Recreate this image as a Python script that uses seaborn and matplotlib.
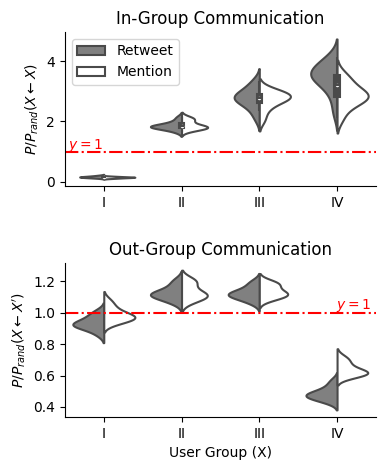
import pandas as pd
import matplotlib.pyplot as plt
import seaborn as sns

groups = ['I', 'II', 'III', 'IV']
kinds = ['Retweet', 'Mention']

# In-group ratios P/P_rand(X <- X)
in_retweet = {
    'I': [0.12, 0.13, 0.14, 0.15, 0.15, 0.16, 0.16, 0.17, 0.18, 0.19, 0.21],
    'II': [1.66, 1.74, 1.78, 1.80, 1.82, 1.83, 1.84, 1.86, 1.89, 1.94, 2.02, 2.14],
    'III': [2.10, 2.35, 2.52, 2.62, 2.70, 2.75, 2.79, 2.83, 2.88, 2.95, 3.05, 3.20, 3.35],
    'IV': [2.30, 2.80, 3.10, 3.28, 3.40, 3.47, 3.53, 3.59, 3.66, 3.74, 3.86, 4.00, 4.14],
}
in_mention = {
    'I': [0.11, 0.12, 0.13, 0.14, 0.14, 0.15, 0.15, 0.15, 0.16, 0.17, 0.18],
    'II': [1.70, 1.75, 1.78, 1.80, 1.81, 1.82, 1.84, 1.88, 1.98, 2.06, 2.10, 2.13],
    'III': [2.05, 2.35, 2.55, 2.66, 2.74, 2.79, 2.83, 2.87, 2.92, 2.98, 3.05],
    'IV': [2.10, 2.45, 2.62, 2.72, 2.78, 2.83, 2.88, 2.95, 3.05, 3.20, 3.40, 3.55],
}

# Out-group ratios P/P_rand(X <- X')
out_retweet = {
    'I': [0.86, 0.89, 0.905, 0.915, 0.92, 0.925, 0.93, 0.94, 0.955, 0.97, 0.99, 1.01],
    'II': [1.06, 1.08, 1.095, 1.105, 1.11, 1.115, 1.12, 1.13, 1.14, 1.16, 1.185, 1.21],
    'III': [1.06, 1.08, 1.095, 1.105, 1.11, 1.115, 1.12, 1.13, 1.14, 1.155, 1.18, 1.20],
    'IV': [0.43, 0.445, 0.455, 0.465, 0.47, 0.475, 0.48, 0.49, 0.50, 0.515, 0.54, 0.57],
}
out_mention = {
    'I': [0.93, 0.945, 0.955, 0.962, 0.968, 0.975, 0.98, 0.99, 1.005, 1.025, 1.05, 1.08],
    'II': [1.065, 1.085, 1.095, 1.105, 1.11, 1.115, 1.125, 1.14, 1.17, 1.195, 1.205, 1.21],
    'III': [1.08, 1.095, 1.105, 1.112, 1.118, 1.125, 1.135, 1.15, 1.17, 1.18, 1.19, 1.20],
    'IV': [0.59, 0.60, 0.607, 0.613, 0.618, 0.623, 0.628, 0.64, 0.66, 0.68, 0.70, 0.72],
}

EDGE = '#4a4a4a'


def to_long(retweet, mention):
    rows = []
    for g in groups:
        rows += [(g, 'Retweet', v) for v in retweet[g]]
        rows += [(g, 'Mention', v) for v in mention[g]]
    return pd.DataFrame(rows, columns=['group', 'kind', 'ratio'])


def draw(ax, df, box, legend):
    # one call per group so both halves share the group's density scale
    for i, g in enumerate(groups):
        sns.violinplot(data=df[df['group'] == g], x='group', y='ratio', hue='kind',
                       order=groups, hue_order=kinds, split=True, inner=None,
                       palette={'Retweet': 'gray', 'Mention': 'white'}, saturation=1,
                       linecolor=EDGE, linewidth=1.5, density_norm='area',
                       common_norm=True, legend=(legend and i == 0), ax=ax)
    if box:
        # single inner box per group, on the pooled data
        sns.boxplot(data=df, x='group', y='ratio', order=groups, width=0.07,
                    color=EDGE, linecolor=EDGE, saturation=1, showcaps=False,
                    showfliers=False, linewidth=1.5, ax=ax)
        sns.pointplot(data=df, x='group', y='ratio', order=groups, estimator='median',
                      errorbar=None, color='white', linestyle='none', marker='o',
                      markersize=2.5, markeredgewidth=0, ax=ax)


plt.rcParams['font.family'] = ['DejaVu Sans']
fig = plt.figure(figsize=(3.84, 4.70), dpi=100)
ax1 = fig.add_axes([0.169, 0.604, 0.810, 0.328])
ax2 = fig.add_axes([0.169, 0.113, 0.810, 0.327])

draw(ax1, to_long(in_retweet, in_mention), True, True)
ax1.axhline(1, color='red', ls='-.', lw=1.5)
ax1.text(0.01, 1.07, '$y=1$', color='red', fontsize=10, transform=ax1.get_yaxis_transform())
ax1.set_title('In-Group Communication', fontsize=12)
ax1.set_xlabel('')
ax1.set_ylabel(r'$P/P_{rand}(X \leftarrow X)$')
sns.move_legend(ax1, 'upper left', title=None)

draw(ax2, to_long(out_retweet, out_mention), False, False)
ax2.axhline(1, color='red', ls='-.', lw=1.5)
ax2.text(0.985, 1.02, '$y=1$', color='red', fontsize=10, ha='right',
         transform=ax2.get_yaxis_transform())
ax2.set_title('Out-Group Communication', fontsize=12)
ax2.set_xlabel('User Group (X)')
ax2.set_ylabel(r"$P/P_{rand}(X \leftarrow X')$")

for ax in (ax1, ax2):
    sns.despine(ax=ax)

fig.savefig('out.png', dpi=100)
